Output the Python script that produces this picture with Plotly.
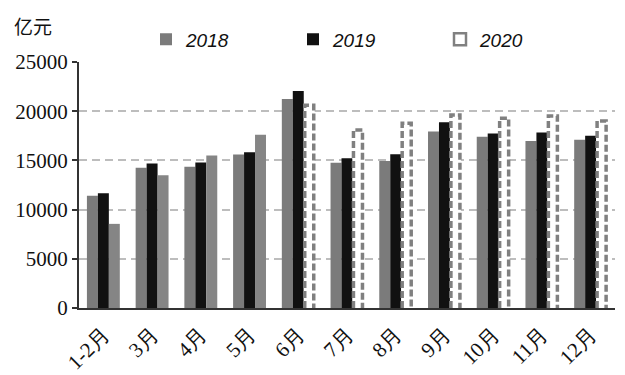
import plotly.graph_objects as go

categories = ["1-2月", "3月", "4月", "5月", "6月", "7月", "8月", "9月", "10月", "11月", "12月"]
v2018 = [11400, 14250, 14350, 15600, 21250, 14750, 14950, 17930, 17400, 16980, 17100]
v2019 = [11650, 14680, 14780, 15830, 22050, 15220, 15630, 18880, 17730, 17830, 17500]
v2020_actual = [8550, 13500, 15500, 17600, None, None, None, None, None, None, None]
v2020_forecast = [None, None, None, None, 20600, 18100, 18780, 19620, 19280, 19520, 19010]
y_ticks = [0, 5000, 10000, 15000, 20000, 25000]
y_ticktext = ["0", "5000", "10000", "15000", "20000", "25000"]

idx = list(range(len(categories)))
W = 0.225
GRAY = "#7b7b7b"
GRAY2 = "#858585"
BLACK = "#111111"
DASH_GRAY = "#808080"
SERIF = "Liberation Serif, Times New Roman, DejaVu Serif, serif"

fig = go.Figure()
fig.add_trace(go.Bar(x=idx, y=v2018, width=W, offset=-1.5 * W, marker=dict(color=GRAY, line=dict(width=0)),
                     name="2018"))
fig.add_trace(go.Bar(x=idx, y=v2019, width=W, offset=-0.5 * W, marker=dict(color=BLACK, line=dict(width=0)),
                     name="2019"))
fig.add_trace(go.Bar(x=idx, y=v2020_actual, width=W, offset=0.5 * W, marker=dict(color=GRAY2, line=dict(width=0)),
                     name="2020 actual", showlegend=False))
fig.add_trace(go.Bar(x=idx, y=v2020_forecast, width=W, offset=0.5 * W, marker=dict(color="white", line=dict(width=0)),
                     name="2020 forecast", showlegend=False))

# dashed outline for forecast bars
px, py = [], []
for i, v in zip(idx, v2020_forecast):
    if v is None:
        continue
    x0 = i + 0.5 * W + 0.02
    x1 = i + 1.5 * W - 0.02
    px += [x0, x0, x1, x1, None]
    py += [0, v, v, 0, None]
fig.add_trace(go.Scatter(x=px, y=py, mode="lines", line=dict(color=DASH_GRAY, width=3.5, dash="7px,3px"),
                         showlegend=False, hoverinfo="skip"))

# legend carrier for 2020
fig.add_trace(go.Bar(x=[None], y=[None], width=W, offset=0.5 * W,
                     marker=dict(color="white", line=dict(color=DASH_GRAY, width=2.5)), name="2020"))

fig.update_layout(
    width=617, height=367,
    margin=dict(l=71, r=10, t=54, b=67),
    plot_bgcolor="white", paper_bgcolor="white",
    barmode="overlay",
    showlegend=True,
    legend=dict(orientation="h", x=0.125, xanchor="left", y=1.015, yanchor="bottom",
                entrywidth=102, entrywidthmode="pixels",
                font=dict(family="Liberation Sans", size=19, style="italic", color="#111"),
                bgcolor="rgba(0,0,0,0)", itemclick=False),
    annotations=[dict(text="亿元", xref="paper", yref="paper", x=-0.125, y=1.15, xanchor="left", yanchor="middle",
                      showarrow=False, font=dict(family="Noto Sans CJK SC", size=19, color="#111"))],
)
fig.update_xaxes(range=[-0.5, len(categories) - 0.5], tickvals=idx, ticktext=categories, tickangle=-45,
                 showgrid=False, zeroline=False, showline=True, linecolor="#333", linewidth=2, ticks="",
                 automargin=False, ticklabelstandoff=4,
                 tickfont=dict(family=SERIF, size=21, color="#111"))
fig.update_yaxes(range=[0, 25000], tickvals=y_ticks, ticktext=y_ticktext, showgrid=True, gridcolor="#bdbdbd",
                 griddash="8px,5px", gridwidth=1.5, zeroline=False, showline=True, linecolor="#333", linewidth=2,
                 ticks="outside", ticklen=5, tickcolor="#333", tickwidth=1.5, automargin=False,
                 tickfont=dict(family=SERIF, size=21, color="#111"))

fig.write_html("out.html")
